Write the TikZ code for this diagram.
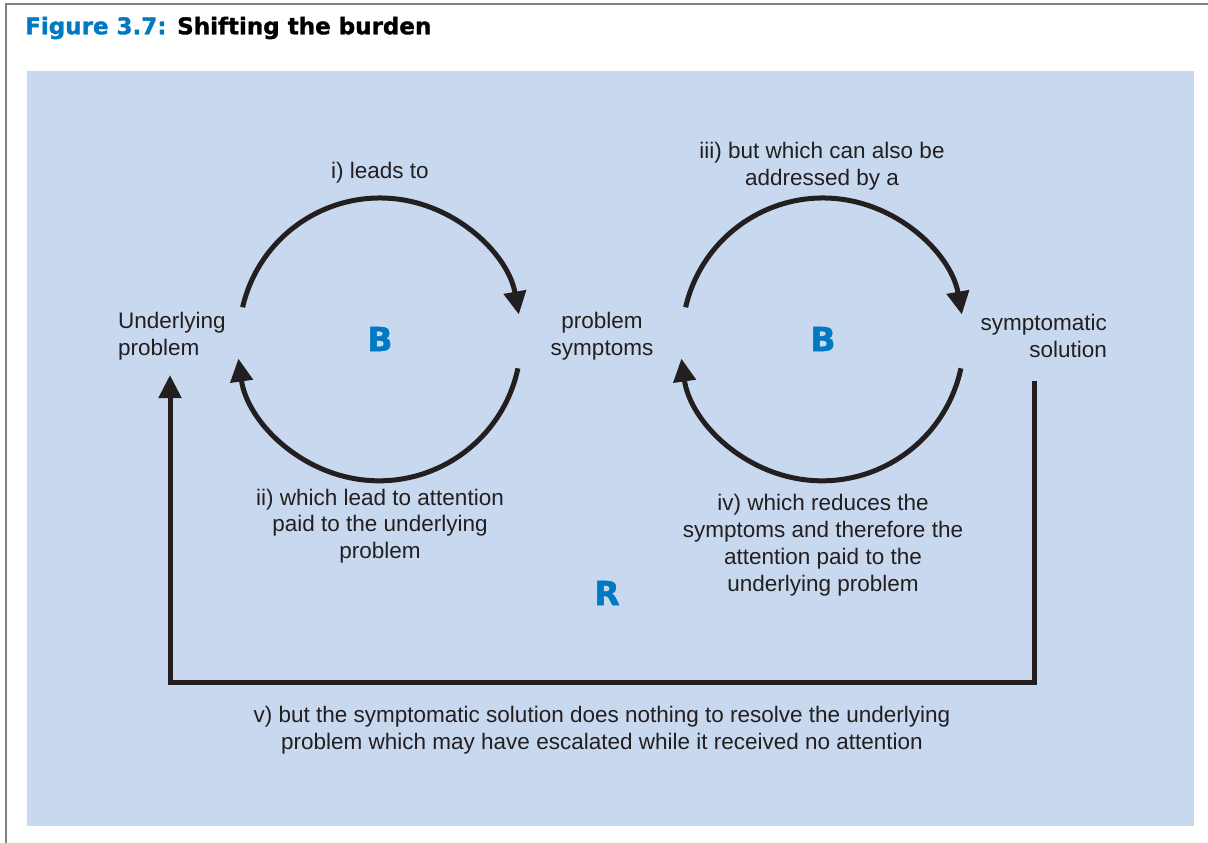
\documentclass[tikz,border=0pt]{standalone}
\usepackage{fontspec}
\setmainfont{Liberation Sans}
\newfontfamily\heavyfont[FakeBold=1.4]{DejaVu Sans Bold}
\usetikzlibrary{arrows.meta,positioning}
\definecolor{cpanel}{RGB}{200,216,239}
\definecolor{cblue}{RGB}{0,120,194}
\definecolor{cink}{RGB}{35,31,32}

\begin{document}
\begin{tikzpicture}[x=1pt, y=-1pt,
    note/.style={align=center, inner sep=0, text=cink, font=\fontsize{22.5}{26.8}\selectfont},
    sign/.style={inner sep=0, text=cblue, font=\heavyfont\fontsize{33}{33}\selectfont},
    link/.style={line width=5pt, draw=cink, -{Triangle[length=23pt,width=22pt]}}]
    \useasboundingbox (0,0) rectangle (1208,843);
    \draw[gray, line width=1.5pt] (6,843) -- (6,4) -- (1208,4);
    \fill[cpanel] (27,71) rectangle (1194,826);

    \node[anchor=west, inner sep=0, font=\heavyfont\fontsize{23}{23}\selectfont] (Title) at (25,28)
        {\textcolor{cblue}{Figure 3.7:} Shifting the burden};

    % the three variables
    \node[note, align=left, anchor=west] (Underlying) at (118,336) {Underlying\\problem};
    \node[note] (Symptoms) at (602,336) {problem\\symptoms};
    \node[note, align=right, anchor=east] (Solution) at (1107,336) {symptomatic\\solution};

    % loop centres
    \coordinate (LeftLoop) at (380,339);
    \coordinate (RightLoop) at (823,339);
    \node[sign] (B1) at (LeftLoop) {B};
    \node[sign] (B2) at (RightLoop) {B};
    \node[sign] (R) at (607,593) {R};

    % circular links
    \draw[link] ([shift={(-167:141)}]LeftLoop) arc[start angle=-167, end angle=-10, radius=141];
    \draw[link] ([shift={(12:141)}]LeftLoop) arc[start angle=12, end angle=172, radius=142];
    \draw[link] ([shift={(-167:141)}]RightLoop) arc[start angle=-167, end angle=-10, radius=141];
    \draw[link] ([shift={(12:141)}]RightLoop) arc[start angle=12, end angle=172, radius=142];

    % long way round
    \coordinate (SolFoot) at (1034,381);
    \coordinate (ProbFoot) at (170,375);
    \draw[link, line join=miter] (SolFoot) -- ++(0,301) -| (ProbFoot);

    \node[note] (Leads) at (380,173) {i) leads to};
    \node[note] (Attention) at (380,526) {ii) which lead to attention\\paid to the underlying\\problem};
    \node[note] (Addressed) at (822,166) {iii) but which can also be\\addressed by a};
    \node[note] (Reduces) at (823,545) {iv) which reduces the\\symptoms and therefore the\\attention paid to the\\underlying problem};
    \node[note] (Nothing) at (602,730) {v) but the symptomatic solution does nothing to resolve the underlying\\problem which may have escalated while it received no attention};
\end{tikzpicture}
\end{document}
